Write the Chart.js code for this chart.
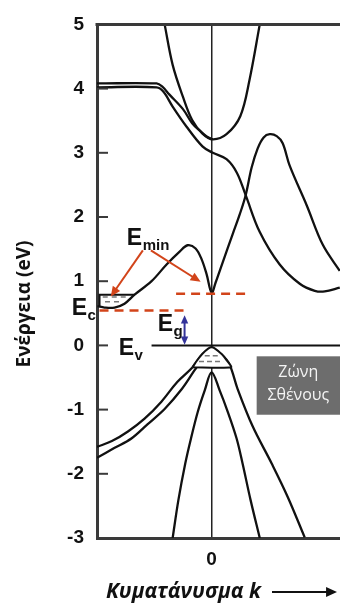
<!DOCTYPE html>
<html>
<head>
<meta charset="utf-8">
<script src="https://cdn.jsdelivr.net/npm/chart.js@4.4.0/dist/chart.umd.min.js"></script>
<style>
html,body{margin:0;padding:0;background:#fff;}
canvas{display:block;}
</style>
</head>
<body>
<canvas id="bands" width="340" height="606"></canvas>
<script>
// axis ticks
const energyTicks = [-3, -2, -1, 0, 1, 2, 3, 4, 5];
const kTicks = [0];

// conduction bands, [k, E(eV)]
const gammaUpper = [[-0.41,5.0],[-0.34,4.37],[-0.25,3.87],[-0.17,3.51],[-0.08,3.30],[0.01,3.21],[0.13,3.29],[0.25,3.57],[0.33,4.13],[0.42,5.0]];
const flatUpper = [[-1.0,4.08],[-0.48,4.08],[-0.43,4.03],[-0.37,3.91],[-0.25,3.68],[-0.17,3.46],[-0.10,3.34],[-0.04,3.25],[0.01,3.21]];
const flatLower = [[-1.0,4.02],[-0.48,4.02],[-0.42,3.95],[-0.34,3.72],[-0.22,3.41],[-0.08,3.10],[0.01,3.00],[0.13,2.90],[0.22,2.69],[0.297,2.34],[0.419,1.77],[0.594,1.26],[0.769,0.96],[0.90,0.85],[0.987,0.84],[1.118,0.90]];
const lowestBand = [[-0.996,0.61],[-0.934,0.59],[-0.847,0.59],[-0.76,0.65],[-0.672,0.79],[-0.524,1.00],[-0.393,1.26],[-0.279,1.46],[-0.21,1.56],[-0.14,1.51],[-0.087,1.34],[-0.044,1.11],[0,0.82],[0.035,0.98],[0.096,1.29],[0.183,1.73],[0.245,2.04],[0.297,2.34],[0.349,2.77],[0.402,3.07],[0.454,3.24],[0.507,3.29],[0.568,3.26],[0.62,3.15],[0.681,2.80],[0.83,2.18],[0.969,1.57],[1.118,1.16]];

// valence bands
const holeLeftA = [[-1.0,-1.58],[-0.87,-1.49],[-0.73,-1.34],[-0.585,-1.14],[-0.44,-0.88],[-0.30,-0.57],[-0.166,-0.34],[-0.08,-0.14],[0,-0.03]];
const holeLeftB = [[-1.0,-1.75],[-0.85,-1.60],[-0.70,-1.45],[-0.56,-1.23],[-0.41,-0.99],[-0.26,-0.68],[-0.15,-0.39],[-0.06,-0.16],[0,-0.03]];
const holeRight = [[0,-0.03],[0.087,-0.14],[0.157,-0.30],[0.227,-0.68],[0.358,-1.26],[0.524,-1.84],[0.664,-2.36],[0.812,-2.99]];
const splitOff = [[-0.34,-3.0],[-0.29,-2.41],[-0.23,-1.84],[-0.18,-1.45],[-0.12,-1.03],[-0.06,-0.70],[0,-0.42],[0.07,-0.70],[0.14,-1.03],[0.218,-1.45],[0.27,-1.84],[0.34,-2.41],[0.42,-3.0]];

// carriers, levels
const holeCap = [[-0.166,-0.34],[-0.13,-0.24],[-0.08,-0.13],[-0.03,-0.05],[0,-0.03],[0.03,-0.05],[0.09,-0.14],[0.13,-0.23],[0.17,-0.34],[-0.166,-0.34]];
const holeDash1 = [[-0.06,-0.16],[0.06,-0.16]];
const holeDash2 = [[-0.11,-0.25],[0.10,-0.25]];
const electronBox = [[-0.672,0.79],[-0.978,0.79],[-0.978,0.61]];
const electronDash1 = [[-0.95,0.755],[-0.72,0.755]];
const electronDash2 = [[-0.93,0.68],[-0.78,0.68]];
const valenceTop = [[-0.524,0],[1.12,0]];
const levelL = [[-0.978,0.545],[-0.21,0.545]];
const levelGamma = [[-0.31,0.805],[0.31,0.805]];

const tickFont = '"Liberation Sans", Arial, sans-serif';
const red = '#d2441a';

function toXY(arr) { return arr.map(p => ({x: p[0], y: p[1]})) }

function band(data) {
    return {data: toXY(data), showLine: true, borderColor: '#111', borderWidth: 2.3, tension: 0.35, pointRadius: 0, fill: false, order: 5}
}

function arrow(ctx, x1, y1, x2, y2, head, color, width) {
    const a = Math.atan2(y2 - y1, x2 - x1);
    ctx.strokeStyle = color; ctx.fillStyle = color; ctx.lineWidth = width;
    ctx.beginPath();
    ctx.moveTo(x1, y1);
    ctx.lineTo(x2 - Math.cos(a) * head * 0.7, y2 - Math.sin(a) * head * 0.7);
    ctx.stroke();
    ctx.beginPath();
    ctx.moveTo(x2, y2);
    ctx.lineTo(x2 - head * Math.cos(a - 0.42), y2 - head * Math.sin(a - 0.42));
    ctx.lineTo(x2 - head * Math.cos(a + 0.42), y2 - head * Math.sin(a + 0.42));
    ctx.closePath();
    ctx.fill();
}

function eLabel(ctx, sub, x, y) {
    ctx.font = 'bold 23px ' + tickFont;
    ctx.fillText('E', x, y);
    const w = ctx.measureText('E').width;
    ctx.font = 'bold 15px ' + tickFont;
    ctx.fillText(sub, x + w + 0.5, y + 5);
}

const overlay = {
    id: 'overlay',
    afterDatasetsDraw(chart) {
        const {ctx, chartArea: a, scales: {x, y}} = chart;
        const px = v => x.getPixelForValue(v);
        const py = v => y.getPixelForValue(v);
        ctx.save();

        // frame top + inward ticks
        ctx.strokeStyle = '#3a3a3a';
        ctx.lineWidth = 3;
        ctx.beginPath(); ctx.moveTo(a.left - 1.5, a.top); ctx.lineTo(a.right, a.top); ctx.stroke();
        ctx.lineWidth = 2;
        energyTicks.forEach(v => {
            ctx.beginPath(); ctx.moveTo(a.left, py(v)); ctx.lineTo(a.left + 11, py(v)); ctx.stroke();
        });

        // valence band box
        ctx.fillStyle = '#6d6d6d';
        ctx.fillRect(px(0.393), py(-0.17), a.right - px(0.393), py(-1.08) - py(-0.17));
        ctx.fillStyle = '#f4f4f4';
        ctx.font = '16px "Open Sans", sans-serif';
        ctx.textAlign = 'center';
        ctx.textBaseline = 'middle';
        const cx = (px(0.393) + a.right) / 2;
        ctx.fillText('Ζώνη', cx, py(-0.42));
        ctx.fillText('Σθένους', cx, py(-0.78));

        // red arrows to the minima
        arrow(ctx, px(-0.60), py(1.48), px(-0.88), py(0.76), 11, red, 2);
        arrow(ctx, px(-0.53), py(1.48), px(-0.096), py(0.99), 11, red, 2);

        // band gap arrow
        const bx = px(-0.236), my = py(0.24);
        arrow(ctx, bx, my, bx, py(0.47), 9, '#33339a', 2);
        arrow(ctx, bx, my, bx, py(0.01), 9, '#33339a', 2);

        // E labels
        ctx.fillStyle = '#111';
        ctx.textAlign = 'left';
        ctx.textBaseline = 'alphabetic';
        eLabel(ctx, 'min', px(-0.74), py(1.57));
        eLabel(ctx, 'c', px(-1.22), py(0.48));
        eLabel(ctx, 'g', px(-0.47), py(0.22));
        eLabel(ctx, 'v', px(-0.81), py(-0.145));

        // axis titles
        ctx.save();
        ctx.translate(25, 304);
        ctx.rotate(-Math.PI / 2);
        ctx.textAlign = 'center';
        ctx.textBaseline = 'middle';
        ctx.font = 'bold 19px "Open Sans", sans-serif';
        ctx.fillText('Ενέργεια (eV)', 0, 0);
        ctx.restore();

        ctx.font = 'italic bold 21px "Open Sans", sans-serif';
        ctx.textAlign = 'left';
        ctx.fillText('Κυματάνυσμα k', 106, 598);
        arrow(ctx, 272, 592, 337, 592, 12, '#111', 2);

        ctx.restore();
    }
};

const datasets = [
    band(gammaUpper), band(flatUpper), band(flatLower), band(lowestBand),
    band(holeLeftA), band(holeLeftB), band(holeRight), band(splitOff),
    {data: toXY(holeCap), showLine: true, borderColor: '#111', backgroundColor: '#fff', borderWidth: 2, tension: 0.2, pointRadius: 0, fill: 'shape', order: 1},
    {data: toXY(holeDash1), showLine: true, borderColor: '#777', borderWidth: 1.5, borderDash: [5, 3], pointRadius: 0, order: 0},
    {data: toXY(holeDash2), showLine: true, borderColor: '#777', borderWidth: 1.5, borderDash: [5, 3], pointRadius: 0, order: 0},
    {data: toXY(electronBox), showLine: true, borderColor: '#111', borderWidth: 2, pointRadius: 0, order: 1},
    {data: toXY(electronDash1), showLine: true, borderColor: '#777', borderWidth: 1.5, borderDash: [5, 4], pointRadius: 0, order: 0},
    {data: toXY(electronDash2), showLine: true, borderColor: '#777', borderWidth: 1.5, borderDash: [5, 4], pointRadius: 0, order: 0},
    {data: toXY(valenceTop), showLine: true, borderColor: '#111', borderWidth: 2, pointRadius: 0, order: 2},
    {data: toXY(levelL), showLine: true, borderColor: red, borderWidth: 2.5, borderDash: [9, 6], pointRadius: 0, order: 0},
    {data: toXY(levelGamma), showLine: true, borderColor: red, borderWidth: 2.5, borderDash: [9, 6], pointRadius: 0, order: 0}
];

new Chart(document.getElementById('bands'), {
    type: 'scatter',
    data: {datasets: datasets},
    options: {
        responsive: false,
        animation: false,
        devicePixelRatio: 1,
        layout: {padding: {top: 16, right: 0, left: 0, bottom: 0}},
        plugins: {legend: {display: false}, tooltip: {enabled: false}},
        scales: {
            x: {
                type: 'linear', min: -1.0, max: 1.12,
                afterBuildTicks: s => { s.ticks = kTicks.map(v => ({value: v})) },
                afterFit: s => { s.height = 68 },
                ticks: {font: {family: tickFont, weight: 'bold', size: 19}, color: '#111', padding: 10},
                grid: {drawTicks: false, color: '#222', lineWidth: 1.5},
                border: {color: '#3a3a3a', width: 3}
            },
            y: {
                type: 'linear', min: -3, max: 5,
                afterBuildTicks: s => { s.ticks = energyTicks.map(v => ({value: v})) },
                afterFit: s => { s.width = 97 },
                ticks: {font: {family: tickFont, weight: 'bold', size: 19}, color: '#111', padding: 13},
                grid: {display: false, drawTicks: false},
                border: {color: '#3a3a3a', width: 3}
            }
        }
    },
    plugins: [overlay]
});
</script>
</body>
</html>
